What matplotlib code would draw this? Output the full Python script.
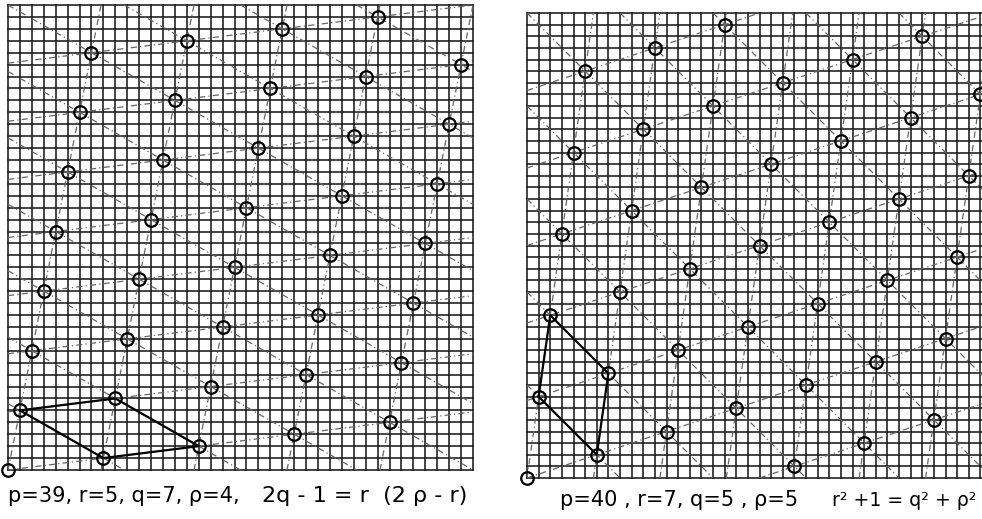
import matplotlib
matplotlib.use("Agg")
import matplotlib.pyplot as plt

# ---------------- data ----------------
# left diagram: p=39, r=5
left_p = 39
left_x = list(range(39))
left_y = [0, 5, 10, 15, 20, 25, 30, 35, 1, 6, 11, 16, 21, 26, 31, 36, 2, 7, 12,
          17, 22, 27, 32, 37, 3, 8, 13, 18, 23, 28, 33, 38, 4, 9, 14, 19, 24, 29, 34]
left_dirs = [(1, 5), (8, 1), (7, -4)]
left_cell_x = [1, 9, 16, 8, 1]
left_cell_y = [5, 6, 2, 1, 5]
left_label1 = "p=39, r=5, q=7, \u03c1=4,"
left_label2 = "2q - 1 = r  (2 \u03c1 - r)"

# right diagram: p=40, r=7
right_p = 40
right_x = list(range(40))
right_y = [0, 7, 14, 21, 28, 35, 2, 9, 16, 23, 30, 37, 4, 11, 18, 25, 32, 39, 6, 13,
           20, 27, 34, 1, 8, 15, 22, 29, 36, 3, 10, 17, 24, 31, 38, 5, 12, 19, 26, 33]
right_dirs = [(1, 7), (6, 2), (5, -5)]
right_cell_x = [1, 6, 7, 2, 1]
right_cell_y = [7, 2, 9, 14, 7]
right_label1 = "p=40 , r=7, q=5 , \u03c1=5"
right_label2 = "r\u00b2 +1 = q\u00b2 + \u03c1\u00b2"

W, H = 982, 519
fig = plt.figure(figsize=(W / 100, H / 100), dpi=100)
fig.patch.set_facecolor("white")


def draw_panel(rect_px, p, xs, ys, dirs, cx, cy):
    l, t, w, h = rect_px
    ax = fig.add_axes([l / W, (H - t - h) / H, w / W, h / H])
    ax.set_xlim(0, p)
    ax.set_ylim(0, p)
    ax.axis("off")
    # square grid
    for k in range(p + 1):
        ax.plot([k, k], [0, p], color="#1a1a1a", lw=1.15, clip_on=False, zorder=1)
        ax.plot([0, p], [k, k], color="#1a1a1a", lw=1.15, clip_on=False, zorder=1)
    # dashed lattice line families
    for dx, dy in dirs:
        seen = set()
        for x0, y0 in zip(xs, ys):
            for a in (-1, 0, 1):
                for b in (-1, 0, 1):
                    X, Y = x0 + a * p, y0 + b * p
                    c = dy * X - dx * Y
                    if c in seen:
                        continue
                    seen.add(c)
                    ax.axline((X, Y), (X + dx, Y + dy), color="#666666", lw=0.9,
                              ls=(0, (5, 2.5, 1, 2.5)), zorder=2)
    # fundamental cell
    ax.plot(cx, cy, color="black", lw=1.6, zorder=3)
    # lattice points
    ax.plot(xs, ys, ls="none", marker="o", ms=9, mfc="none", mec="black", mew=1.6,
            clip_on=False, zorder=4)
    return ax


draw_panel((8, 5, 465, 465), left_p, left_x, left_y, left_dirs, left_cell_x, left_cell_y)
draw_panel((527, 13, 465, 465), right_p, right_x, right_y, right_dirs, right_cell_x, right_cell_y)

fig.text(8 / W, (H - 496) / H, left_label1, fontsize=15, va="center", ha="left", color="black")
fig.text(262 / W, (H - 496) / H, left_label2, fontsize=16, va="center", ha="left", color="black")
fig.text(560 / W, (H - 500) / H, right_label1, fontsize=15, va="center", ha="left", color="black")
fig.text(832 / W, (H - 500) / H, right_label2, fontsize=13.6, va="center", ha="left", color="black")

fig.savefig("out.png", dpi=100, facecolor="white")
